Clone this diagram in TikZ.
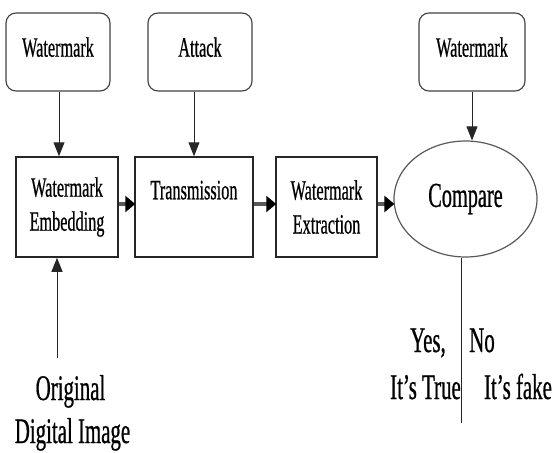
\documentclass[tikz,border=0pt]{standalone}
\usepackage{fontspec}
\setmainfont{Liberation Serif}
\newfontfamily\cf[FakeStretch=0.58,FakeBold=0.6]{Liberation Serif}
\usetikzlibrary{arrows.meta,shapes.geometric}
\begin{document}
\begin{tikzpicture}[x=1pt,y=-1pt,
  rbox/.style={draw=black!75,line width=1.1pt,rounded corners=10pt,minimum width=104pt,minimum height=78pt,inner sep=0pt,text depth=10pt,font=\cf\fontsize{28}{34}\selectfont},
  sbox/.style={draw=black!85,line width=1.5pt,minimum height=100pt,inner sep=0pt,align=center,font=\cf\fontsize{28}{34}\selectfont},
  lbl/.style={anchor=base,inner sep=0pt,font=\cf\fontsize{36}{43}\selectfont},
  varrow/.style={draw=black!85,line width=1pt,-{Triangle[length=14pt,width=11pt]}},
  harrow/.style={draw=black!65,line width=3.5pt,-{Triangle[length=10pt,width=16pt,color=black]},shorten >=-1pt}]
\useasboundingbox (0,0) rectangle (555,453);
\node[rbox] (wm1) at (58,52) {Watermark};
\node[rbox] (atk) at (200,52) {Attack};
\node[rbox,minimum width=106pt] (wm2) at (472,52) {Watermark};
\node[sbox,minimum width=102pt] (emb) at (67,207) {Watermark\\Embedding};
\node[sbox,minimum width=118pt] (trn) at (194,207) {Transmission\\\mbox{}};
\node[sbox,minimum width=101pt] (ext) at (326.5,207) {Watermark\\Extraction};
\node[ellipse,draw=black!65,line width=1.2pt,minimum width=143pt,minimum height=116pt,inner sep=0pt,font=\cf\fontsize{35}{40}\selectfont] (cmp) at (465.5,199) {Compare};
\node[lbl] (yes) at (428,352) {Yes,};
\node[lbl] (no) at (482,352) {No};
\node[lbl] (true) at (425.5,399) {It’s True};
\node[lbl] (fake) at (518,399) {It’s fake};
\node[lbl] (orig1) at (70.5,400) {Original};
\node[lbl] (orig2) at (72.5,443) {Digital Image};
\coordinate (o) at (57,358);
\coordinate (endc) at (461,423);
\draw[varrow] (wm1.south -| 59,0) -- (emb.north -| 59,0);
\draw[varrow] (trn.north |- atk.south) -- (trn.north);
\draw[varrow] (wm2.south) -- (wm2.south |- cmp.north);
\draw[varrow] (o) -- (o |- emb.south);
\draw[harrow] ([yshift=3pt]emb.east) -- ([yshift=3pt]emb.east -| trn.west);
\draw[harrow] ([yshift=3pt]trn.east) -- ([yshift=3pt]trn.east -| ext.west);
\draw[harrow] ([yshift=3pt]ext.east) -- ([yshift=3pt]ext.east -| cmp.west);
\draw[draw=black!85,line width=1pt] (cmp.south -| endc) -- (endc);
\end{tikzpicture}
\end{document}
